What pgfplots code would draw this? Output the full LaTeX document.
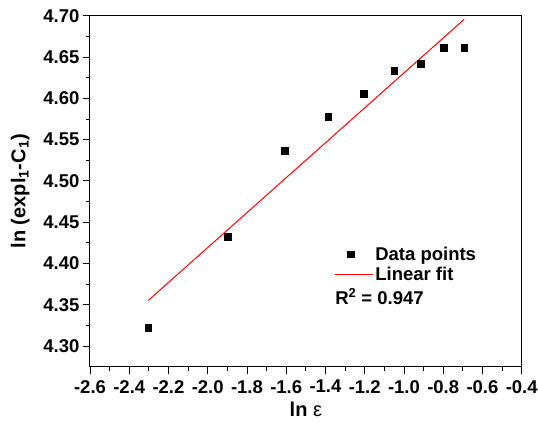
\documentclass[border=0pt]{standalone}
\usepackage{fontspec}
\setmainfont{Liberation Sans}
\usepackage{pgfplots}
\pgfplotsset{compat=1.18}
\pgfplotsset{
  markleg/.style={legend image code/.code={\draw[##1] plot coordinates {(16pt,0pt)};}},
  lineleg/.style={legend image code/.code={\draw[##1] (0pt,0pt) -- (38pt,0pt);}},
}
\begin{document}
\begin{tikzpicture}
\begin{axis}[
  scale only axis, width=431.7pt, height=351pt,
  xmin=-2.6, xmax=-0.4, ymin=4.275, ymax=4.70,
  xtick={-2.6,-2.4,-2.2,-2.0,-1.8,-1.6,-1.4,-1.2,-1.0,-0.8,-0.6,-0.4},
  ytick={4.30,4.35,4.40,4.45,4.50,4.55,4.60,4.65,4.70},
  minor x tick num=1, minor y tick num=1,
  xtick pos=left, ytick pos=left, tick align=outside,
  major tick length=7pt, minor tick length=4pt,
  tick style={black, line width=0.8pt},
  axis line style={line width=1pt},
  /pgf/number format/assume math mode=true,
  ticklabel style={font=\fontsize{18.5}{22}\selectfont\bfseries},
  xticklabel style={yshift=-3pt, /pgf/number format/.cd, fixed, fixed zerofill, precision=1},
  yticklabel style={/pgf/number format/.cd, fixed, fixed zerofill, precision=2},
  xlabel={ln \textmd{ε}},
  ylabel={ln (expl\textsubscript{1}-C\textsubscript{1})},
  label style={font=\fontsize{20}{24}\selectfont\bfseries},
  xlabel style={yshift=-2pt},
  ylabel style={yshift=7pt},
  legend style={draw=none, fill=none, at={(axis cs:-1.356,4.423)}, anchor=north west,
    font=\fontsize{18.5}{22}\selectfont\bfseries, row sep=1.5pt, inner sep=0pt},
  legend cell align=left,
]
\addplot[only marks, mark=square*, mark size=3.3pt, black, markleg]
  coordinates {(-2.303,4.322)(-1.897,4.4326)(-1.609,4.5365)(-1.386,4.5776)(-1.204,4.6054)(-1.050,4.6335)(-0.916,4.642)(-0.799,4.661)(-0.693,4.661)};
\addlegendentry{Data points}
\addplot[red, line width=1pt, lineleg]
  coordinates {(-2.303,4.3552)(-0.693,4.6956)};
\addlegendentry{Linear fit}
\node[anchor=west, font=\fontsize{18.5}{22}\selectfont\bfseries, inner sep=0pt] at (axis cs:-1.351,4.360) {R\textsuperscript{2} = 0.947};
\end{axis}
\pgfresetboundingbox
\useasboundingbox (-90pt,-58.3pt) rectangle (448pt,366.7pt);
\end{tikzpicture}
\end{document}
